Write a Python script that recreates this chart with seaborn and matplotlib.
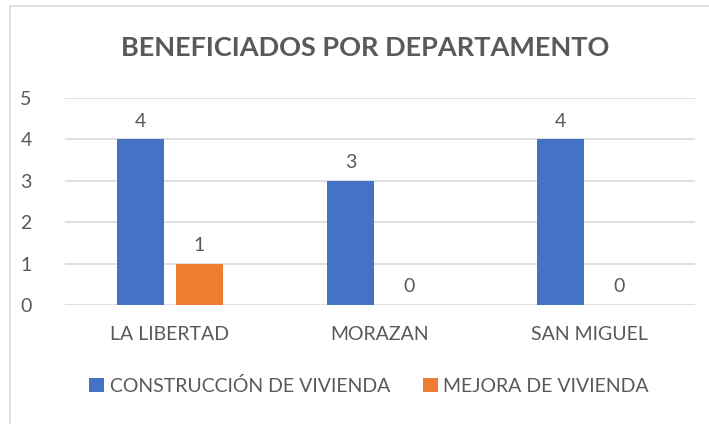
import pandas as pd
import matplotlib
matplotlib.use('Agg')
import matplotlib.pyplot as plt
import seaborn as sns
from matplotlib.lines import Line2D

# Datos del grafico
departamentos = ['LA LIBERTAD', 'MORAZAN', 'SAN MIGUEL']
construccion = [4, 3, 4]
mejora = [1, 0, 0]
series = ['CONSTRUCCIÓN DE VIVIENDA', 'MEJORA DE VIVIENDA']
colores = ['#4472C4', '#ED7D31']
texto_gris = '#595959'

df = pd.DataFrame({
    'Departamento': departamentos * 2,
    'Tipo': [series[0]] * 3 + [series[1]] * 3,
    'Beneficiados': construccion + mejora,
})

sns.set_theme(style='white')
plt.rcParams['font.family'] = ['Lato', 'DejaVu Sans']

fig = plt.figure(figsize=(7.09, 4.24), dpi=100)
ax = fig.add_axes([0.0917, 0.2807, 0.888, 0.4882])

sns.barplot(data=df, x='Departamento', y='Beneficiados', hue='Tipo',
            palette=colores, saturation=1, width=0.56, gap=0.21,
            linewidth=0, ax=ax, legend=True)

ax.set_ylim(0, 5)
ax.set_xlim(-0.5, 2.5)
ax.set_yticks(range(0, 6))
ax.yaxis.grid(True, color='#D9D9D9', linewidth=1.2)
ax.set_axisbelow(True)
for s in ax.spines.values():
    s.set_visible(False)
ax.set_xlabel('')
ax.set_ylabel('')
ax.tick_params(axis='x', pad=15, labelsize=14, labelcolor=texto_gris, length=0)
ax.tick_params(axis='y', pad=24, labelsize=14, labelcolor=texto_gris, length=0)

# Etiquetas de datos
for cont in ax.containers:
    ax.bar_label(cont, fmt='%d', padding=7, fontsize=14, color=texto_gris)

ax.set_title('BENEFICIADOS POR DEPARTAMENTO', fontsize=19.5, fontweight='bold',
             color=texto_gris, pad=30, x=0.476)

# Leyenda abajo
handles, labels = ax.get_legend_handles_labels()
ax.legend(handles, labels, loc='center', bbox_to_anchor=(0.483, -0.39), ncol=2,
          frameon=False, fontsize=14, labelcolor=texto_gris,
          handlelength=0.75, handleheight=0.75, handletextpad=0.3, columnspacing=1.7)

# Borde del grafico
fig.add_artist(Line2D([9.5 / 709, 9.5 / 709], [0, 1 - 6 / 424], color='#D9D9D9',
                      linewidth=1.2, transform=fig.transFigure))
fig.add_artist(Line2D([9.5 / 709, 1], [1 - 6 / 424, 1 - 6 / 424], color='#D9D9D9',
                      linewidth=1.2, transform=fig.transFigure))

plt.savefig('out.png', dpi=100)
plt.close()
